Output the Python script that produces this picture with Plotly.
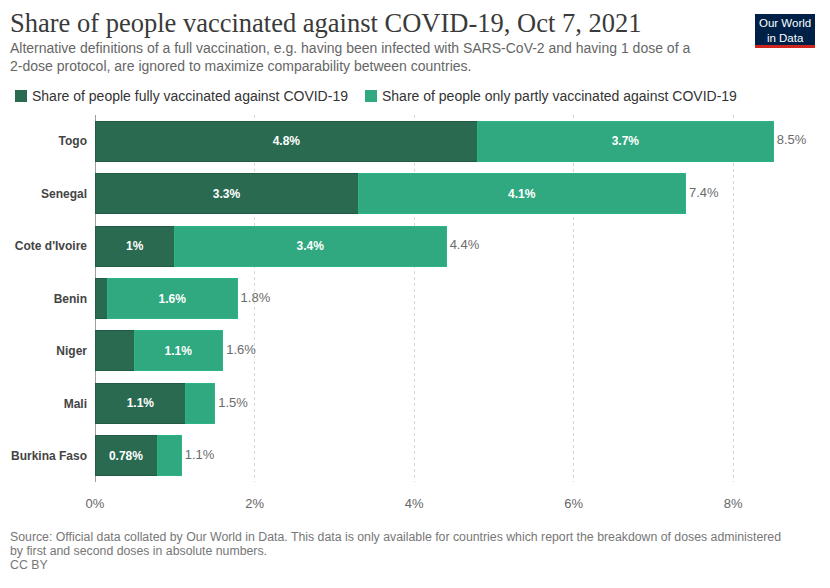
import plotly.graph_objects as go

countries = ["Togo", "Senegal", "Cote d'Ivoire", "Benin", "Niger", "Mali", "Burkina Faso"]
fully = [4.80, 3.30, 1.00, 0.16, 0.49, 1.14, 0.78]
partly = [3.70, 4.10, 3.40, 1.62, 1.11, 0.36, 0.30]
series_names = ["Share of people fully vaccinated against COVID-19",
                "Share of people only partly vaccinated against COVID-19"]
xticks = [0, 2, 4, 6, 8]
xticklabels = ["0%", "2%", "4%", "6%", "8%"]
subtitle_lines = [
    "Alternative definitions of a full vaccination, e.g. having been infected with SARS-CoV-2 and having 1 dose of a",
    "2-dose protocol, are ignored to maximize comparability between countries.",
]
footer_lines = [
    "Source: Official data collated by Our World in Data. This data is only available for countries which report the breakdown of doses administered",
    "by first and second doses in absolute numbers.",
    "CC BY",
]

DARK = "#2a6a50"
LIGHT = "#30a981"
OFF = 8                      # page body margin of the html page
W, H = 830 - OFF, 588 - OFF
# plot area in screen (reference) pixels
L, R, T, B = 95, 813, 115, 482


def fmt(v):
    return f"{v:.2g}%"


def seg_text(vals, minw=0.6):
    return [fmt(v) if v >= minw else "" for v in vals]


def px(x):
    return (x - L) / (R - L)


def py(y):
    return (B - y) / (B - T)


totals = [f + p for f, p in zip(fully, partly)]

fig = go.Figure()
fig.add_trace(go.Bar(
    y=countries, x=fully, orientation="h", name=series_names[0],
    marker=dict(color=DARK, line=dict(color="#235a44", width=1)),
    text=seg_text(fully), textposition="inside", insidetextanchor="middle",
    textangle=0, constraintext="none",
    textfont=dict(color="white", size=12, family="Liberation Sans", weight="bold"),
    hoverinfo="skip", showlegend=False,
))
fig.add_trace(go.Bar(
    y=countries, x=partly, orientation="h", name=series_names[1],
    marker=dict(color=LIGHT, line=dict(color="#2bb585", width=1)),
    text=seg_text(partly), textposition="inside", insidetextanchor="middle",
    textangle=0, constraintext="none",
    textfont=dict(color="white", size=12, family="Liberation Sans", weight="bold"),
    hoverinfo="skip", showlegend=False,
))
fig.add_trace(go.Scatter(
    y=countries, x=totals, mode="text", text=[" " + fmt(v) for v in totals],
    textposition="middle right", textfont=dict(color="#6b6b6b", size=13, family="Liberation Sans"),
    showlegend=False, hoverinfo="skip", cliponaxis=False,
))

fig.update_layout(
    width=W, height=H, barmode="stack", bargap=0.235,
    plot_bgcolor="white", paper_bgcolor="white",
    margin=dict(l=L - OFF, r=830 - R, t=T - OFF, b=588 - B, pad=0, autoexpand=False),
    font=dict(family="Liberation Sans", color="#444"),
    title=dict(
        text="Share of people vaccinated against COVID-19, Oct 7, 2021",
        x=(10 - OFF) / W, xanchor="left", y=1 - (23 - OFF) / H, yanchor="middle",
        font=dict(family="Liberation Serif", size=26.5, color="#3a3a3a"),
    ),
    xaxis=dict(
        range=[0, 9], tickvals=xticks, ticktext=xticklabels, automargin=False,
        showgrid=True, gridcolor="#d8d8d8", griddash="dot", gridwidth=1,
        zeroline=True, zerolinecolor="#a0a0a0", zerolinewidth=1,
        tickfont=dict(size=13, color="#666"), ticks="", ticklabelstandoff=12,
        showline=False, fixedrange=True,
    ),
    yaxis=dict(
        autorange="reversed", showgrid=False, ticks="", ticklabelstandoff=7, automargin=False,
        tickfont=dict(size=12, color="#444", weight="bold"), fixedrange=True,
    ),
    showlegend=False,
)

# subtitle
for i, line in enumerate(subtitle_lines):
    fig.add_annotation(
        text=line, xref="paper", yref="paper", x=px(8), y=py(48 + 18 * i),
        xanchor="left", yanchor="middle", showarrow=False,
        font=dict(size=14, color="#666"),
    )

# legend (swatch + label)
legend_x = [(15, 32), (365, 382)]
for (sx, tx), name, col in zip(legend_x, series_names, [DARK, LIGHT]):
    fig.add_shape(type="rect", xref="paper", yref="paper",
                  x0=px(sx), x1=px(sx + 12), y0=py(90), y1=py(102),
                  fillcolor=col, line=dict(width=0))
    fig.add_annotation(
        text=name, xref="paper", yref="paper", x=px(tx - 2), y=py(96),
        xanchor="left", yanchor="middle", showarrow=False,
        font=dict(size=14, color="#333"),
    )

# footer
for i, line in enumerate(footer_lines):
    fig.add_annotation(
        text=line, xref="paper", yref="paper", x=px(8), y=py(537 + 14 * i),
        xanchor="left", yanchor="middle", showarrow=False,
        font=dict(size=12.3, color="#777"),
    )

# logo
fig.add_shape(type="rect", xref="paper", yref="paper", x0=px(755), x1=px(815), y0=py(14), y1=py(48),
              fillcolor="#002147", line=dict(width=0), layer="above")
fig.add_shape(type="rect", xref="paper", yref="paper", x0=px(755), x1=px(815), y0=py(45), y1=py(48),
              fillcolor="#ce261e", line=dict(width=0), layer="above")
fig.add_annotation(
    text="Our World<br>in Data", xref="paper", yref="paper", x=px(785), y=py(30),
    xanchor="center", yanchor="middle", showarrow=False,
    font=dict(size=11.5, color="white", family="Liberation Sans"),
)

fig.write_html("out.html")
